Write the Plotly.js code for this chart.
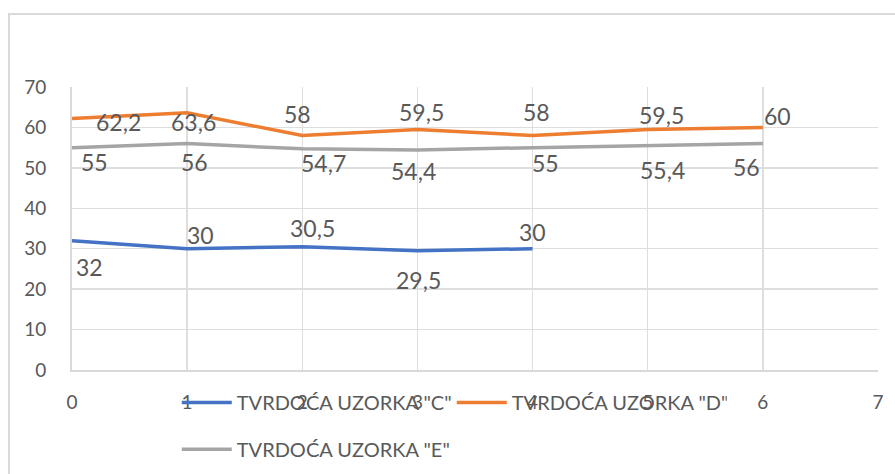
<!DOCTYPE html>
<html>
<head>
<meta charset="utf-8">
<script src="https://cdn.plot.ly/plotly-3.0.1.min.js"></script>
<style>
  html, body { margin: 0; padding: 0; background: #ffffff; }
  #wrap { position: relative; width: 895px; height: 474px; overflow: hidden; }
  #chart { position: absolute; left: 0; top: 0; width: 895px; height: 474px; }
  #frame { position: absolute; left: 8px; top: 13px; width: 900px; height: 480px;
           border-top: 2px solid #d9d9d9; border-left: 2px solid #d9d9d9; pointer-events: none; }
</style>
</head>
<body>
<div id="wrap">
  <div id="chart"></div>
  <div id="frame"></div>
</div>
<script>
// ---- data ----
const xC = [0, 1, 2, 3, 4];
const valuesC = [32, 30, 30.5, 29.5, 30];
const xD = [0, 1, 2, 3, 4, 5, 6];
const valuesD = [62.2, 63.6, 58, 59.5, 58, 59.5, 60];
const xE = [0, 1, 2, 3, 4, 5, 6];
const valuesE = [55, 56, 54.7, 54.4, 55, 55.4, 56];
const seriesNames = ['TVRDOĆA UZORKA "C"', 'TVRDOĆA UZORKA "D"', 'TVRDOĆA UZORKA "E"'];
const xTicks = [0, 1, 2, 3, 4, 5, 6, 7];
const yTicks = [0, 10, 20, 30, 40, 50, 60, 70];

// ---- label placement (pixel offsets from each point) ----
const offC = [[17, 26], [13, -14], [10, -19], [1, 29], [0, -17]];
const offD = [[46, 3], [6, 9], [-5, -22], [4, -17], [4, -24], [14, -14], [15, -11]];
const offE = [[22, 14], [7, 18], [21, 14], [-4, 21], [13, 15], [15, 24], [-16, 23]];

const colors = ['#4472C4', '#ED7D31', '#A5A5A5'];
const FONT = 'Lato, "Open Sans", "Liberation Sans", sans-serif';
const TXT = '#595959';

function fmt(v) { return String(v).replace('.', ','); }

const traces = [
  { x: xC, y: valuesC, name: seriesNames[0], mode: 'lines', line: { color: colors[0], width: 3.5 }, legend: 'legend' },
  { x: xD, y: valuesD, name: seriesNames[1], mode: 'lines', line: { color: colors[1], width: 3.5 }, legend: 'legend' },
  { x: xE, y: valuesE, name: seriesNames[2], mode: 'lines', line: { color: colors[2], width: 3.5 }, legend: 'legend2' }
];
const ordered = [traces[2], traces[0], traces[1]];

const annotations = [];
function addLabels(xs, ys, offs) {
  xs.forEach((x, i) => {
    annotations.push({
      x: x, y: ys[i], xref: 'x', yref: 'y', text: fmt(ys[i]), showarrow: false,
      xanchor: 'center', yanchor: 'middle', xshift: offs[i][0], yshift: -offs[i][1],
      font: { family: FONT, size: 23, color: TXT }
    });
  });
}
addLabels(xC, valuesC, offC);
addLabels(xD, valuesD, offD);
addLabels(xE, valuesE, offE);

const layout = {
  width: 895, height: 474,
  margin: { l: 72, r: 17, t: 87, b: 104, autoexpand: false },
  paper_bgcolor: 'rgba(0,0,0,0)', plot_bgcolor: '#ffffff',
  font: { family: FONT, size: 19, color: TXT },
  xaxis: {
    range: [0, 7], tickvals: xTicks, ticktext: xTicks.map(String),
    showgrid: true, gridcolor: '#dedede', gridwidth: 1.5,
    showline: true, linecolor: '#d9d9d9', linewidth: 2,
    zeroline: false, ticks: '', ticklabelstandoff: 14,
    tickfont: { family: FONT, size: 19, color: TXT }, fixedrange: true
  },
  yaxis: {
    range: [0, 70], tickvals: yTicks, ticktext: yTicks.map(String),
    showgrid: true, gridcolor: '#dedede', gridwidth: 1.5,
    showline: true, linecolor: '#d9d9d9', linewidth: 2,
    zeroline: false, ticks: '', ticklabelstandoff: 20,
    tickfont: { family: FONT, size: 19, color: TXT }, fixedrange: true
  },
  showlegend: true,
  legend: {
    orientation: 'h', x: 0.13, xanchor: 'left', y: -0.046, yanchor: 'top',
    bgcolor: 'rgba(0,0,0,0)', font: { family: FONT, size: 20, color: TXT },
    entrywidth: 210, entrywidthmode: 'pixels', traceorder: 'normal', itemwidth: 50
  },
  legend2: {
    orientation: 'h', x: 0.13, xanchor: 'left', y: -0.211, yanchor: 'top',
    bgcolor: 'rgba(0,0,0,0)', font: { family: FONT, size: 20, color: TXT }, itemwidth: 50
  },
  annotations: annotations
};

Plotly.newPlot('chart', ordered, layout, { staticPlot: true, displayModeBar: false });
</script>
</body>
</html>
